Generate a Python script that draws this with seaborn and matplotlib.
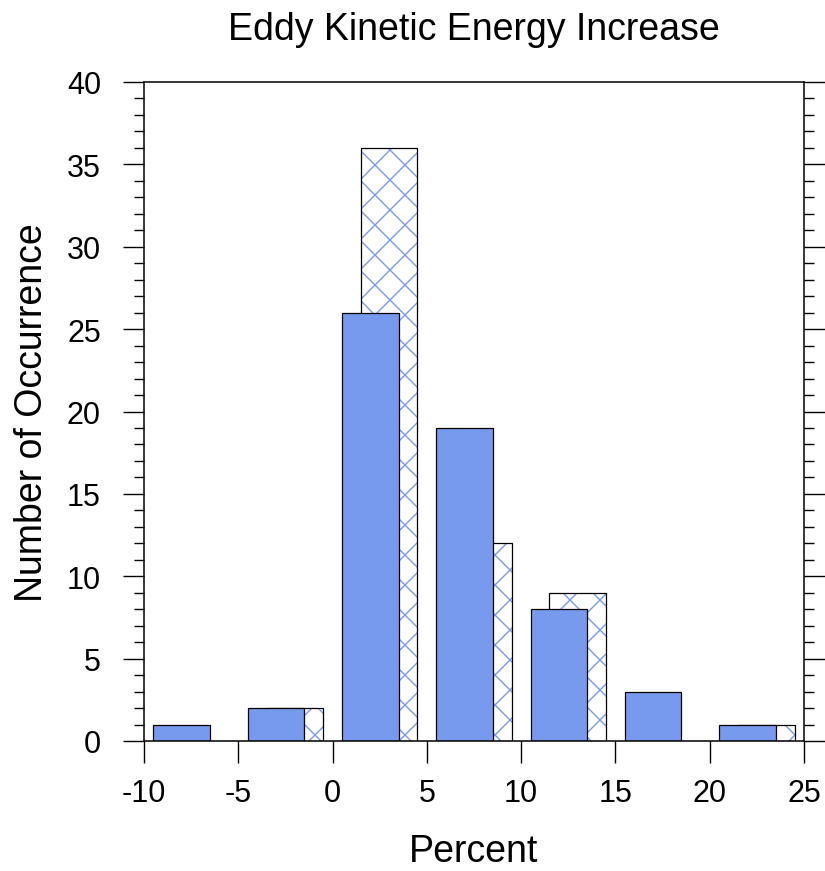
import matplotlib
matplotlib.use("Agg")
import matplotlib.pyplot as plt
import seaborn as sns
import pandas as pd
import numpy as np

# Data
bin_left = [-10, -5, 0, 5, 10, 15, 20]
solid_counts = [1, 2, 26, 19, 8, 3, 1]
hatched_counts = [0, 2, 36, 12, 9, 0, 1]
x_ticks = [-10, -5, 0, 5, 10, 15, 20, 25]
y_ticks = [0, 5, 10, 15, 20, 25, 30, 35, 40]

BLUE = "#7799ee"
DPI = 90
K = 100 / DPI  # keep pixel sizes as designed for 100 dpi

sns.set_theme(style="white")
plt.rcParams["font.family"] = ["Liberation Sans", "DejaVu Sans"]
plt.rcParams["hatch.linewidth"] = 1.0 * K

fig = plt.figure(figsize=(825 / DPI, 872 / DPI), dpi=DPI)
ax = fig.add_axes([144 / 825, 1 - 742 / 872, 660 / 825, 659 / 872])

df_s = pd.DataFrame({"x": np.array(bin_left) + 2.0, "y": solid_counts})
df_h = pd.DataFrame({"x": np.array(bin_left) + 3.0, "y": hatched_counts})
df_h = df_h[df_h["y"] > 0]

# hatched series: hatch layer then outline
sns.barplot(data=df_h, x="x", y="y", native_scale=True, width=0.6, errorbar=None,
            color="white", ax=ax, saturation=1)
for p in ax.patches:
    p.set_facecolor("white")
    p.set_edgecolor(BLUE)
    p.set_hatch("x")
    p.set_linewidth(0)
n_h = len(ax.patches)
sns.barplot(data=df_h, x="x", y="y", native_scale=True, width=0.6, errorbar=None,
            fill=False, ax=ax)
for p in ax.patches[n_h:]:
    p.set_edgecolor("black")
    p.set_linewidth(0.9 * K)
n_h2 = len(ax.patches)
sns.barplot(data=df_s, x="x", y="y", native_scale=True, width=0.6, errorbar=None,
            color=BLUE, saturation=1, ax=ax)
for p in ax.patches[n_h2:]:
    p.set_facecolor(BLUE)
    p.set_edgecolor("black")
    p.set_linewidth(0.9 * K)

ax.set_xlim(-10, 25)
ax.set_ylim(0, 40)
ax.set_xticks(x_ticks)
ax.set_xticklabels([str(v) for v in x_ticks])
ax.set_yticks(y_ticks)
ax.set_yticklabels([str(v) for v in y_ticks])
ax.set_yticks(np.arange(0, 41, 1), minor=True)

ax.tick_params(axis="x", which="major", direction="out", length=16 * K, width=1.0 * K,
               color="black", labelsize=22 * K, pad=11 * K, bottom=True, top=False)
ax.tick_params(axis="y", which="major", direction="out", length=15 * K, width=1.0 * K,
               color="black", labelsize=22 * K, pad=16 * K, left=True, right=True)
ax.tick_params(axis="y", which="minor", direction="out", length=7.5 * K, width=1.0 * K,
               color="black", left=True, right=True)
ax.tick_params(colors="black", labelcolor="black")

for s in ax.spines.values():
    s.set_visible(True)
    s.set_color("black")
    s.set_linewidth(1.1 * K)

ax.set_title("Eddy Kinetic Energy Increase", fontsize=27 * K, pad=31 * K, color="black")
ax.set_xlabel("Percent", fontsize=27 * K, labelpad=18 * K, color="black")
ax.set_ylabel("Number of Occurrence", fontsize=27 * K, labelpad=12 * K, color="black")

fig.savefig("out.png", dpi=DPI)
